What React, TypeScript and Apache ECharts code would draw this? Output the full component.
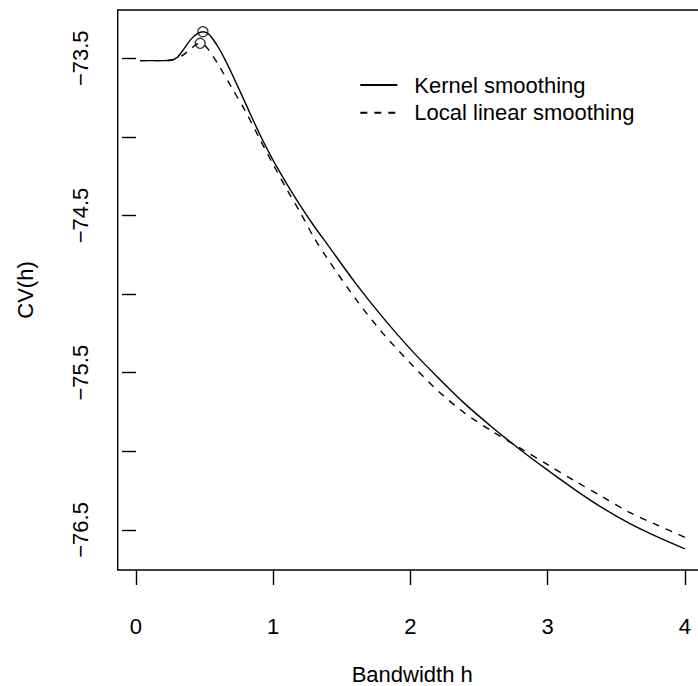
import React, { useEffect, useRef } from "react";
import * as echarts from "echarts";

// Bandwidth values (x) and CV(h) curves
const kernelX = [0.03, 0.1, 0.2, 0.25, 0.3, 0.35, 0.4, 0.45, 0.49, 0.53, 0.57, 0.6, 0.65, 0.7, 0.8, 0.9, 1.0, 1.1, 1.2, 1.3, 1.4, 1.6, 1.8, 2.0, 2.2, 2.4, 2.6, 2.8, 3.0, 3.2, 3.4, 3.6, 3.8, 4.0];
const kernelCV = [-73.515, -73.515, -73.515, -73.513, -73.495, -73.44, -73.38, -73.342, -73.331, -73.346, -73.39, -73.43, -73.51, -73.6, -73.79, -73.98, -74.15, -74.3, -74.44, -74.57, -74.69, -74.93, -75.15, -75.35, -75.53, -75.7, -75.85, -75.99, -76.12, -76.245, -76.36, -76.46, -76.545, -76.621];

const localX = [0.03, 0.1, 0.2, 0.25, 0.3, 0.35, 0.4, 0.44, 0.468, 0.5, 0.53, 0.6, 0.7, 0.8, 0.9, 1.0, 1.1, 1.2, 1.3, 1.4, 1.6, 1.8, 2.0, 2.2, 2.4, 2.6, 2.8, 3.0, 3.2, 3.4, 3.6, 3.8, 4.0];
const localCV = [-73.515, -73.515, -73.515, -73.513, -73.5, -73.475, -73.44, -73.412, -73.405, -73.418, -73.447, -73.54, -73.69, -73.84, -74.01, -74.175, -74.335, -74.485, -74.645, -74.78, -75.03, -75.25, -75.44, -75.615, -75.76, -75.875, -75.98, -76.085, -76.19, -76.29, -76.39, -76.47, -76.547];

// Maxima (marked with open circles)
const kernelPeak = [0.488, -73.331];
const localPeak = [0.468, -73.405];

const seriesNames = ["Kernel smoothing", "Local linear smoothing"];
const xTicks = [0, 1, 2, 3, 4];
const yTicks = [-73.5, -74, -74.5, -75, -75.5, -76, -76.5];
const yLabels = [-73.5, -74.5, -75.5, -76.5];

const FONT = "'Liberation Sans', Arial, Helvetica, sans-serif";

export default function App() {
  const ref = useRef<HTMLDivElement>(null);
  useEffect(() => {
    if (!ref.current) return;
    const chart = echarts.init(ref.current, null, { renderer: "svg" });
    const zip = (xs: number[], ys: number[]) => xs.map((x, i) => [x, ys[i]]);
    const fmtY = (v: number) => (v < 0 ? "\u2212" : "") + Math.abs(v).toFixed(1);
    chart.setOption({
      animation: false,
      backgroundColor: "#fff",
      textStyle: { fontFamily: FONT },
      grid: {
        left: 117.7,
        top: 10,
        right: -8.7,
        bottom: 116,
        show: true,
        borderColor: "#000",
        borderWidth: 1.4,
        backgroundColor: "transparent",
        containLabel: false,
        outerBoundsMode: "none",
      },
      legend: {
        data: seriesNames,
        orient: "vertical",
        left: 359.3,
        top: 74,
        padding: 0,
        itemWidth: 37,
        itemHeight: 14,
        itemGap: 5.7,
        selectedMode: false,
        itemStyle: { opacity: 0, borderWidth: 0 },
        lineStyle: { opacity: 1 },
        textStyle: { fontSize: 22, color: "#000", fontFamily: FONT, padding: [0, 0, 0, 12] },
      },
      xAxis: {
        type: "value",
        min: -0.133,
        max: 4.159,
        name: "Bandwidth h",
        nameLocation: "middle",
        nameGap: 93,
        nameTextStyle: { fontSize: 22, color: "#000", fontFamily: FONT },
        axisLine: { show: false },
        splitLine: { show: false },
        axisTick: { show: true, inside: false, length: 15, lineStyle: { color: "#000", width: 1.4 }, customValues: xTicks },
        axisLabel: { show: true, margin: 45, fontSize: 22, color: "#000", fontFamily: FONT, customValues: xTicks, formatter: (v: number) => String(v) },
      },
      yAxis: {
        type: "value",
        min: -76.755,
        max: -73.193,
        name: "CV(h)",
        nameLocation: "middle",
        nameGap: 81,
        nameTextStyle: { fontSize: 22, color: "#000", fontFamily: FONT },
        axisLine: { show: false },
        splitLine: { show: false },
        axisTick: { show: true, inside: false, length: 14, lineStyle: { color: "#000", width: 1.4 }, customValues: yTicks },
        axisLabel: { show: true, margin: 26, rotate: 90, fontSize: 22, color: "#000", fontFamily: FONT, customValues: yLabels, formatter: fmtY },
      },
      series: [
        {
          name: seriesNames[0],
          type: "line",
          data: zip(kernelX, kernelCV),
          symbol: "none",
          smooth: 0.3,
          lineStyle: { color: "#000", width: 1.4, type: "solid" },
          itemStyle: { color: "#000" },
          z: 3,
        },
        {
          name: seriesNames[1],
          type: "line",
          data: zip(localX, localCV),
          symbol: "none",
          smooth: 0.3,
          lineStyle: { color: "#000", width: 1.4, type: [7, 7] },
          itemStyle: { color: "#000" },
          z: 3,
        },
        {
          name: "Kernel maximum",
          type: "scatter",
          data: [kernelPeak],
          symbol: "circle",
          symbolSize: 10,
          itemStyle: { color: "rgba(0,0,0,0)", borderColor: "#000", borderWidth: 1.3 },
          z: 4,
        },
        {
          name: "Local linear maximum",
          type: "scatter",
          data: [localPeak],
          symbol: "circle",
          symbolSize: 10,
          itemStyle: { color: "rgba(0,0,0,0)", borderColor: "#000", borderWidth: 1.3 },
          z: 4,
        },
      ],
    });
    return () => chart.dispose();
  }, []);
  return <div ref={ref} style={{ position: "absolute", left: 0, top: 0, width: 698, height: 686 }} />;
}
